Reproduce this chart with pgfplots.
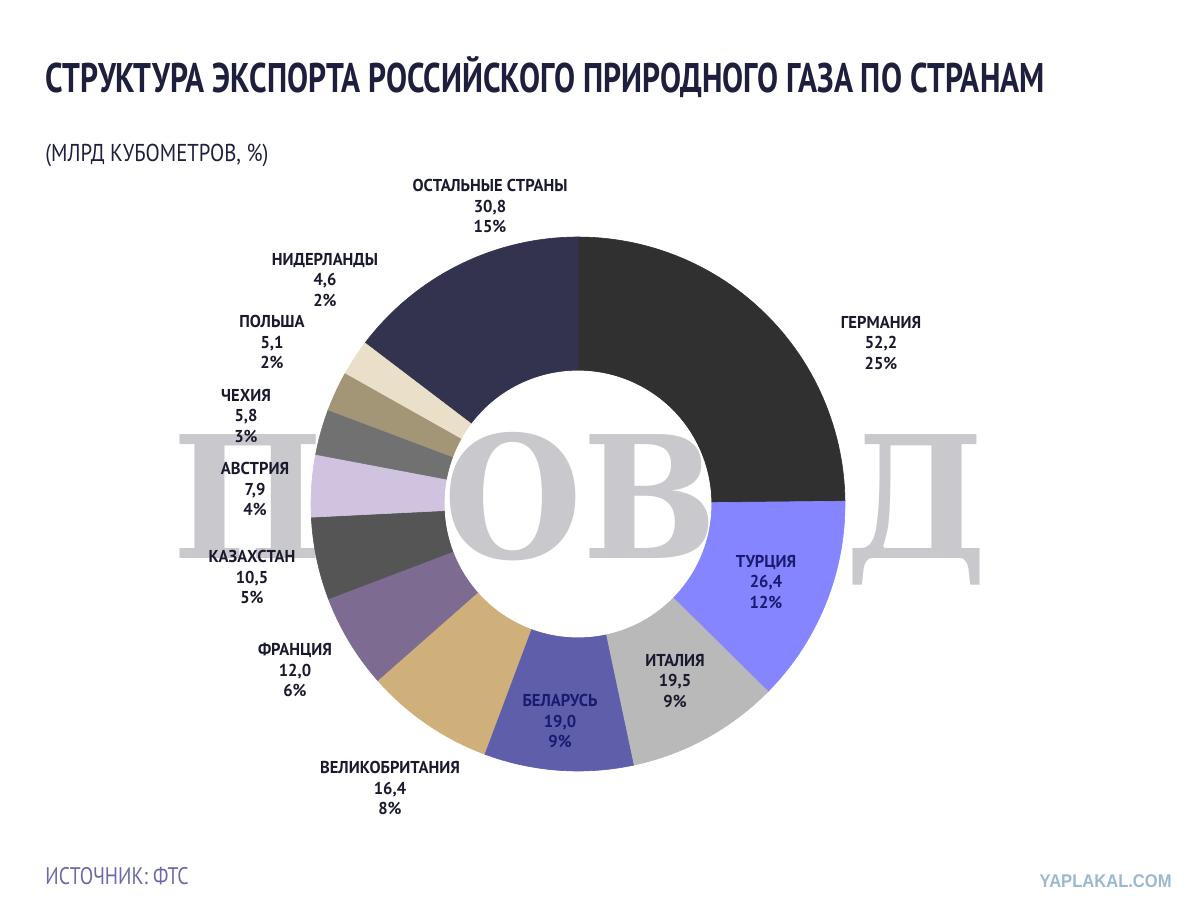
\documentclass[border=0pt]{standalone}
\usepackage{fontspec}
\usepackage{pgfplots}
\usepackage{pgfplotstable}
\pgfplotsset{compat=1.18}
\setmainfont{PT Sans}
\newfontfamily\titlefont[FakeStretch=0.76]{PT Sans}
\newfontfamily\subfont[FakeStretch=0.85]{PT Sans}
\newfontfamily\srcfont[FakeStretch=0.82]{PT Sans}
\newfontfamily\labfont[FakeStretch=0.96]{PT Sans}
\newfontfamily\wmfont[FakeStretch=0.94]{DejaVu Serif}
\newfontfamily\yapfont[FakeStretch=0.9]{Liberation Sans}

\definecolor{cGer}{HTML}{303030}
\definecolor{cTur}{HTML}{8585FF}
\definecolor{cIta}{HTML}{B9B9B9}
\definecolor{cBel}{HTML}{5E5EAA}
\definecolor{cUK}{HTML}{CFAF7A}
\definecolor{cFra}{HTML}{7E6B91}
\definecolor{cKaz}{HTML}{555555}
\definecolor{cAut}{HTML}{CFC3E0}
\definecolor{cCze}{HTML}{717171}
\definecolor{cPol}{HTML}{A39676}
\definecolor{cNed}{HTML}{EADFC9}
\definecolor{cOth}{HTML}{33334F}
\definecolor{titlecol}{HTML}{1E1F3D}
\definecolor{labcol}{HTML}{1A1A2E}
\definecolor{labblue}{HTML}{1A1A70}
\definecolor{srccol}{HTML}{6A6AAA}
\definecolor{yapcol}{HTML}{9AB8D0}
\definecolor{wmcol}{HTML}{C9C9CD}

\pgfplotstableread{
country value color
Germany 52.2 cGer
Turkey 26.4 cTur
Italy 19.5 cIta
Belarus 19.0 cBel
UK 16.4 cUK
France 12.0 cFra
Kazakhstan 10.5 cKaz
Austria 7.9 cAut
Czechia 5.8 cCze
Poland 5.1 cPol
Netherlands 4.6 cNed
Others 30.8 cOth
}\gasdata

\newcommand\lab[6]{\node[align=center,inner sep=0pt,text=#6,font=\labfont\bfseries\fontsize{8.6}{10.3}\selectfont] at (axis cs:#1,#2) {#3\\#4\\#5};}
\newcommand\watermark{\node[anchor=base,inner sep=0pt,text=wmcol,font=\wmfont\bfseries\fontsize{85}{85}\selectfont] at (axis cs:580,558) {ПРОВЭД};}

\begin{document}
\begin{tikzpicture}
\path[use as bounding box] (0,0) rectangle (600pt,455.5pt);
\begin{axis}[at={(0,0)},anchor=south west,width=600pt,height=455.5pt,scale only axis,hide axis,clip=false,
  xmin=0,xmax=1200,ymin=0,ymax=911,y dir=reverse]
% watermark (behind the ring)
\watermark

\pgfplotstablegetrowsof{\gasdata}
\pgfmathtruncatemacro\nrows{\pgfplotsretval-1}
\def\total{0}
\pgfplotsforeachungrouped \i in {0,...,\nrows}{%
  \pgfplotstablegetelem{\i}{value}\of\gasdata
  \pgfmathsetmacro\total{\total+\pgfplotsretval}}
\def\cum{0}
\pgfplotsforeachungrouped \i in {0,...,\nrows}{%
  \pgfplotstablegetelem{\i}{value}\of\gasdata
  \let\val\pgfplotsretval
  \pgfmathsetmacro\aS{90-\cum/\total*360}
  \pgfmathsetmacro\cum{\cum+\val}
  \pgfmathsetmacro\aE{90-\cum/\total*360}
  \pgfplotstablegetelem{\i}{color}\of\gasdata
  \let\col\pgfplotsretval
  \edef\doslice{\noexpand\addplot[fill=\col,draw=\col,line width=0.3pt,domain=\aE:\aS,samples=60]
    ({578+267*cos(x)},{504-267*sin(x)}) -- (axis cs:578,504) -- cycle;}
  \doslice
}
\addplot[fill=white,draw=white,domain=0:360,samples=180] ({578+133*cos(x)},{504-133*sin(x)}) -- cycle;
% watermark again, inside the hole
\begin{scope}
\clip (axis cs:578,504) circle[radius=66.3pt];
\watermark
\end{scope}

% titles
\node[anchor=base west,inner sep=0pt,text=titlecol,font=\titlefont\bfseries\fontsize{20.7}{24}\selectfont] at (axis cs:45,92) {СТРУКТУРА ЭКСПОРТА РОССИЙСКОГО ПРИРОДНОГО ГАЗА ПО СТРАНАМ};
\node[anchor=base west,inner sep=0pt,text=titlecol,font=\subfont\fontsize{12.2}{14}\selectfont] at (axis cs:45,161) {(МЛРД КУБОМЕТРОВ, \%)};
\node[anchor=base west,inner sep=0pt,text=srccol,font=\srcfont\fontsize{12}{14}\selectfont] at (axis cs:45,884) {ИСТОЧНИК: ФТС};
\node[anchor=base east,inner sep=0pt,text=yapcol,font=\yapfont\bfseries\fontsize{9.2}{11}\selectfont] at (axis cs:1172,887) {YAPLAKAL.COM};

% labels
\lab{490}{206}{ОСТАЛЬНЫЕ СТРАНЫ}{30,8}{15\%}{labcol}
\lab{325}{280}{НИДЕРЛАНДЫ}{4,6}{2\%}{labcol}
\lab{272}{342}{ПОЛЬША}{5,1}{2\%}{labcol}
\lab{246}{416}{ЧЕХИЯ}{5,8}{3\%}{labcol}
\lab{255}{489}{АВСТРИЯ}{7,9}{4\%}{labcol}
\lab{252}{577}{КАЗАХСТАН}{10,5}{5\%}{labcol}
\lab{295}{670}{ФРАНЦИЯ}{12,0}{6\%}{labcol}
\lab{390}{788}{ВЕЛИКОБРИТАНИЯ}{16,4}{8\%}{labcol}
\lab{560}{721}{БЕЛАРУСЬ}{19,0}{9\%}{labblue}
\lab{675}{681}{ИТАЛИЯ}{19,5}{9\%}{labcol}
\lab{766}{582}{ТУРЦИЯ}{26,4}{12\%}{labblue}
\lab{881}{343}{ГЕРМАНИЯ}{52,2}{25\%}{labcol}
\end{axis}
\end{tikzpicture}
\end{document}
